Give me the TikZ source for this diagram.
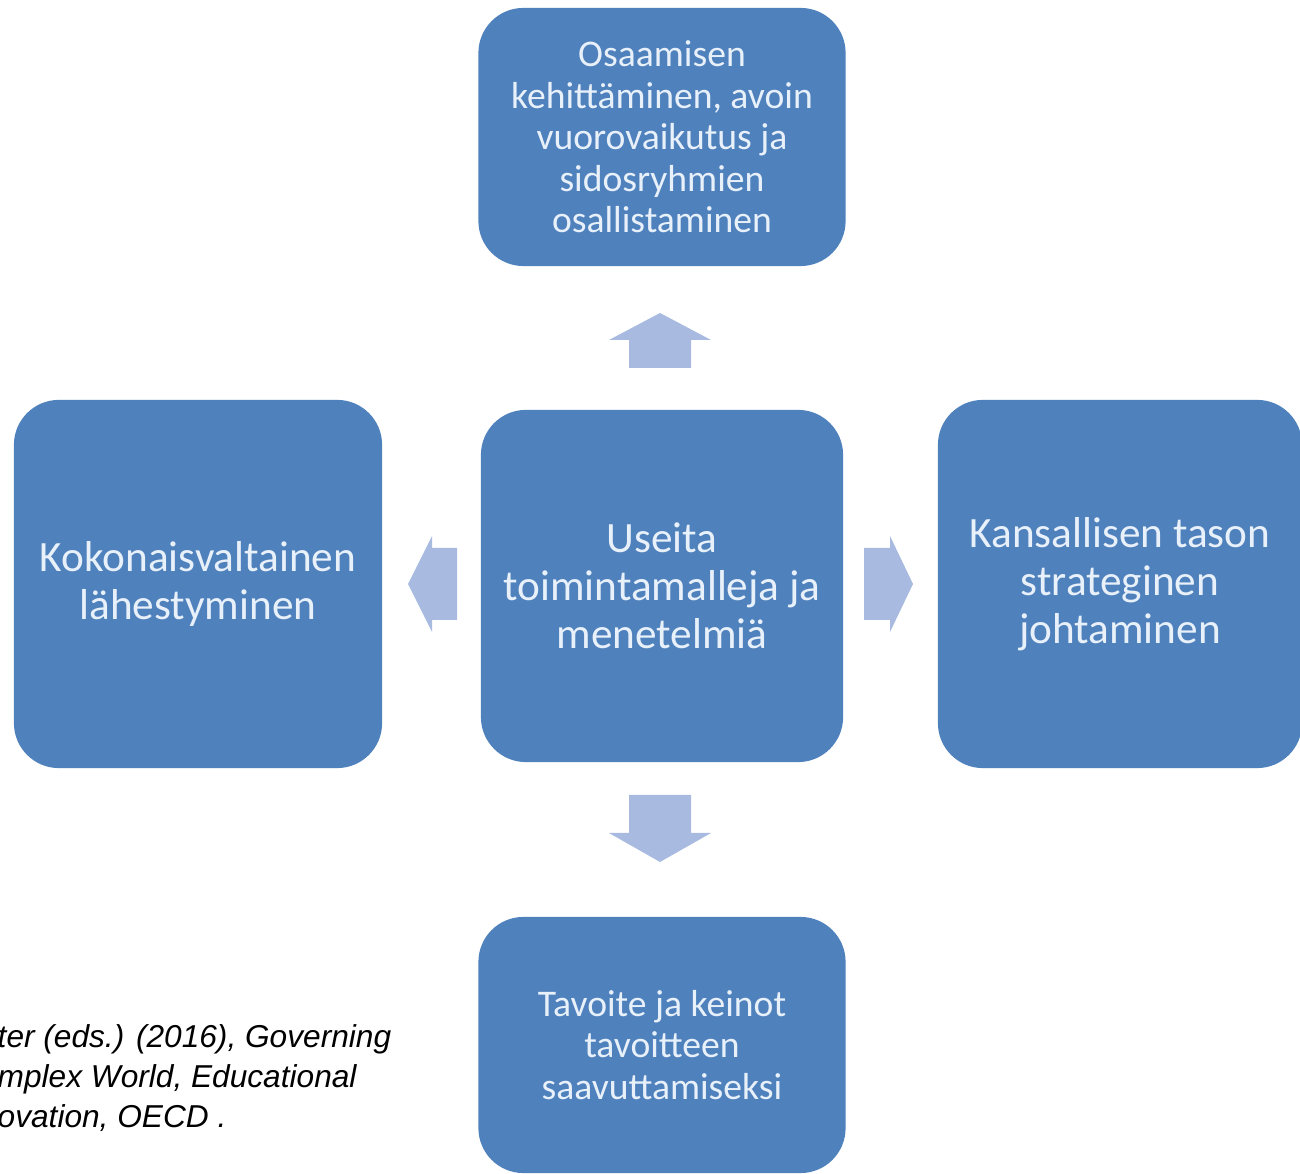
\documentclass[tikz,border=0pt]{standalone}
\usepackage{fontspec}
\setmainfont{Carlito}
\newfontfamily\citefont{Liberation Sans}

\definecolor{boxblue}{RGB}{79,129,189}
\definecolor{boxtext}{RGB}{232,240,250}
\definecolor{arrowblue}{RGB}{168,186,224}

\begin{document}
\begin{tikzpicture}[x=0.01cm,y=-0.01cm]

      \useasboundingbox (0,0) rectangle (1300,1174);
      \clip (0,0) rectangle (1300,1174);

      \begin{scope}[every node/.style={rounded corners=0.45cm, fill=boxblue, text=boxtext, align=center, inner sep=0pt}]
        \node[minimum width=3.67cm, minimum height=2.58cm, font=\fontsize{10.7}{11.8}\selectfont] (osaaminen) at (662,137)
          {Osaamisen\\kehittäminen, avoin\\vuorovaikutus ja\\sidosryhmien\\osallistaminen};
        \node[minimum width=3.68cm, minimum height=3.68cm, font=\fontsize{12.3}{13.6}\selectfont] (kokonais) at (198,584)
          {Kokonaisvaltainen\\lähestyminen};
        \node[minimum width=3.62cm, minimum height=3.52cm, font=\fontsize{12.3}{13.6}\selectfont] (useita) at (662,586)
          {Useita\\toimintamalleja ja\\menetelmiä};
        \node[minimum width=3.64cm, minimum height=3.68cm, font=\fontsize{12.3}{13.6}\selectfont] (kansallinen) at (1120,584)
          {Kansallisen tason\\strateginen\\johtaminen};
        \node[minimum width=3.67cm, minimum height=2.56cm, font=\fontsize{10.7}{11.8}\selectfont] (tavoite) at (662,1045)
          {Tavoite ja keinot\\tavoitteen\\saavuttamiseksi};
      \end{scope}

      % block arrows
      \fill[arrowblue] (629,368) -- (629,340) -- (609,340) -- (660,313) -- (711,340) -- (691,340) -- (691,368) -- cycle;
      \fill[arrowblue] (629,795) -- (629,833) -- (609,833) -- (660,862) -- (711,833) -- (691,833) -- (691,795) -- cycle;
      \fill[arrowblue] (457,548) -- (432,548) -- (432,536) -- (408,584) -- (432,632) -- (432,620) -- (457,620) -- cycle;
      \fill[arrowblue] (864,548) -- (890,548) -- (890,536) -- (913,584) -- (890,632) -- (890,620) -- (864,620) -- cycle;

      \node[anchor=north west, align=left, inner sep=0pt, font=\citefont\itshape\fontsize{9}{11.3}\selectfont] (lahde) at (-3,1024)
        {ter (eds.) (2016), Governing\\mplex World, Educational\\ovation, OECD .};

    \end{tikzpicture}
\end{document}
